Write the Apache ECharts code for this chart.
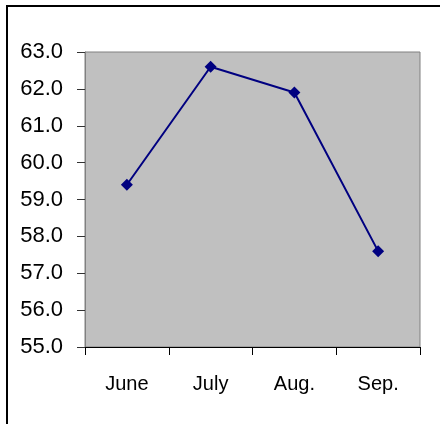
<!DOCTYPE html>
<html>
<head>
<meta charset="utf-8">
<script src="https://cdn.jsdelivr.net/npm/echarts@6/dist/echarts.min.js"></script>
<style>
html,body{margin:0;padding:0;background:#fff;}
#c{width:440px;height:424px;}
</style>
</head>
<body>
<div id="c"></div>
<script>
var categories = ['June', 'July', 'Aug.', 'Sep.'];
var values = [59.4, 62.6, 61.9, 57.6];
var yMin = 55, yMax = 63, yStep = 1;

var chart = echarts.init(document.getElementById('c'), null, {renderer: 'canvas'});
chart.setOption({
  animation: false,
  backgroundColor: '#ffffff',
  graphic: [
    {type: 'line', shape: {x1: 7, y1: 6, x2: 7, y2: 424}, style: {stroke: '#000', lineWidth: 2}},
    {type: 'line', shape: {x1: 6, y1: 6, x2: 440, y2: 6}, style: {stroke: '#000', lineWidth: 2}}
  ],
  grid: {
    left: 85, right: 20, top: 52, bottom: 77,
    show: true, backgroundColor: '#C0C0C0', borderColor: '#808080', borderWidth: 1
  },
  xAxis: {
    type: 'category',
    data: categories,
    boundaryGap: true,
    axisLine: {lineStyle: {color: '#000', width: 1}},
    axisTick: {show: true, length: 8, lineStyle: {color: '#000'}},
    axisLabel: {color: '#000', fontFamily: '"Liberation Sans", Arial', fontSize: 20, margin: 27}
  },
  yAxis: {
    type: 'value',
    min: yMin, max: yMax, interval: yStep,
    splitLine: {show: false},
    axisLine: {show: true, lineStyle: {color: '#808080', width: 1}},
    axisTick: {show: true, length: 8, lineStyle: {color: '#333'}},
    axisLabel: {color: '#000', fontFamily: '"Liberation Sans", Arial', fontSize: 22, margin: 22,
      formatter: function (v) { return v.toFixed(1); }}
  },
  series: [{
    type: 'line',
    data: values,
    symbol: 'diamond',
    symbolSize: 12,
    lineStyle: {color: '#000080', width: 2},
    itemStyle: {color: '#000080'}
  }]
});
</script>
</body>
</html>
